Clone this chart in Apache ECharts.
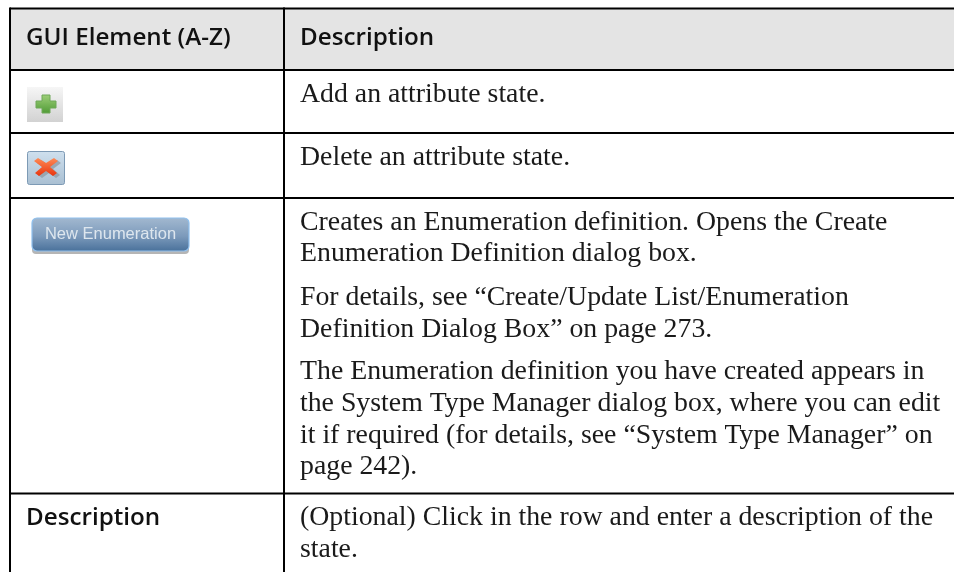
<!DOCTYPE html>
<html><head><meta charset="utf-8">
<style>html,body{margin:0;padding:0;background:#fff}#c{width:954px;height:572px}</style>
<script src="https://cdn.jsdelivr.net/npm/echarts@6/dist/echarts.min.js"></script>
</head><body><div id="c"></div>
<script>
const headers = ['GUI Element (A-Z)', 'Description'];
const addLines = ['Add an attribute state.'];
const deleteLines = ['Delete an attribute state.'];
const enumParagraph1 = ['Creates an Enumeration definition. Opens the Create', 'Enumeration Definition dialog box.'];
const enumParagraph2 = ['For details, see \u201cCreate/Update List/Enumeration', 'Definition Dialog Box\u201d on page 273.'];
const enumParagraph3 = ['The Enumeration definition you have created appears in', 'the System Type Manager dialog box, where you can edit', 'it if required (for details, see \u201cSystem Type Manager\u201d on', 'page 242).'];
const descLabel = 'Description';
const descLines = ['(Optional) Click in the row and enter a description of the', 'state.'];
const buttonLabel = 'New Enumeration';

const chart = echarts.init(document.getElementById('c'), null, {renderer:'canvas'});
const SANS = '"Open Sans","Noto Sans",sans-serif';
const SERIF = '"Liberation Serif",serif';
const W = 954, H = 572, LEFT = 10, MID = 284, TOP = 8.5;
const rowLines = [70, 133, 198, 493.5];
const els = [];
const line = (x1,y1,x2,y2,w=2,c='#000') => els.push({type:'line',shape:{x1,y1,x2,y2},style:{stroke:c,lineWidth:w},z:5});
const body = (t,y) => els.push({type:'text',x:300,y,style:{text:t,font:'27.8px '+SERIF,fill:'#1a1a1a',verticalAlign:'middle'},z:6});
const bold = (t,x,y) => els.push({type:'text',x,y,style:{text:t,font:'600 24.2px '+SANS,fill:'#111',verticalAlign:'middle'},z:6});

els.push({type:'rect',shape:{x:LEFT,y:TOP,width:W-LEFT,height:rowLines[0]-TOP},style:{fill:'#e4e4e4'},z:1});
line(LEFT,TOP-1,LEFT,H); line(MID,TOP-1,MID,H);
line(LEFT,TOP,W,TOP);
rowLines.forEach(y=>line(LEFT,y,W,y));

bold(headers[0],26,38); bold(headers[1],300,38);
addLines.forEach((t,i)=>body(t,95+i*32));
deleteLines.forEach((t,i)=>body(t,158+i*32));
enumParagraph1.forEach((t,i)=>body(t,223+i*30.5));
enumParagraph2.forEach((t,i)=>body(t,298+i*32));
enumParagraph3.forEach((t,i)=>body(t,372+i*31.7));
bold(descLabel,26,518);
descLines.forEach((t,i)=>body(t,518+i*32));

// add icon
els.push({type:'rect',shape:{x:27,y:87,width:36,height:35},style:{fill:new echarts.graphic.LinearGradient(0,0,0,1,[{offset:0,color:'#f6f6f6'},{offset:1,color:'#d2d2d2'}])},z:2});
els.push({type:'polygon',shape:{points:[[42,95],[50,95],[50,101],[56,101],[56,108],[50,108],[50,113],[42,113],[42,108],[36,108],[36,101],[42,101]]},style:{fill:new echarts.graphic.LinearGradient(0,0,0,1,[{offset:0,color:'#9fd07a'},{offset:1,color:'#4f9a35'}]),stroke:'#6fa858',lineWidth:1},z:3});
// delete icon
els.push({type:'rect',shape:{x:27.5,y:151.5,width:37,height:33,r:2},style:{fill:new echarts.graphic.LinearGradient(0,0,0,1,[{offset:0,color:'#cfe0ee'},{offset:1,color:'#a9bfd2'}]),stroke:'#7d9ab5',lineWidth:1},z:2});
const x1 = [[34,161],[38,158],[46,163],[54,158],[58,161],[50,167],[57,173],[53,176],[46,171],[39,176],[35,173],[42,167]];
els.push({type:'polygon',x:3,y:2,shape:{points:x1},style:{fill:'#8f9aa3',opacity:.75},z:3});
els.push({type:'polygon',shape:{points:x1},style:{fill:new echarts.graphic.LinearGradient(0,0,0,1,[{offset:0,color:'#ff8a55'},{offset:1,color:'#e8350f'}])},z:4});
// button
els.push({type:'rect',shape:{x:32,y:220,width:157,height:34,r:4},style:{fill:'#b5b5b5'},z:2});
els.push({type:'rect',shape:{x:32,y:218,width:157,height:33,r:5},style:{fill:new echarts.graphic.LinearGradient(0,0,0,1,[{offset:0,color:'#a3b9d0'},{offset:.55,color:'#7c9abb'},{offset:1,color:'#48709a'}]),stroke:'#8fc0ee',lineWidth:1.2},z:3});
els.push({type:'text',x:110.5,y:234,style:{text:buttonLabel,font:'16.5px "Liberation Sans",sans-serif',fill:'#dde6ee',align:'center',verticalAlign:'middle'},z:6});

chart.setOption({animation:false,backgroundColor:'#fff',graphic:{elements:els}});
</script></body></html>
